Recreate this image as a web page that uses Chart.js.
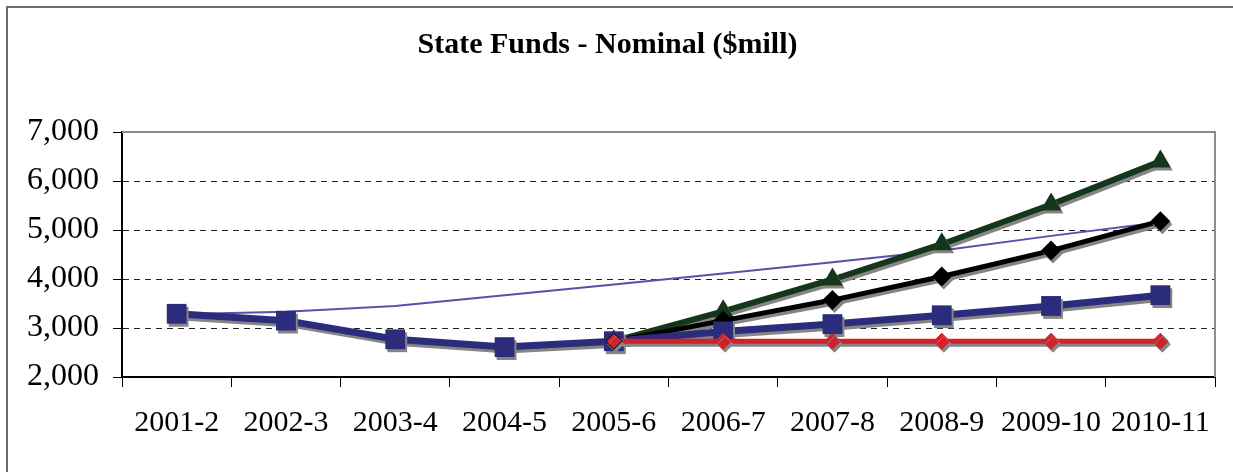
<!DOCTYPE html>
<html>
<head>
<meta charset="utf-8">
<script src="https://cdn.jsdelivr.net/npm/chart.js@4.4.1/dist/chart.umd.min.js"></script>
<style>
  html, body { margin: 0; padding: 0; background: #fff; }
  #wrap { width: 1233px; height: 472px; }
</style>
</head>
<body>
<div id="wrap"><canvas id="lineChart" width="1233" height="472"></canvas></div>
<script>
var years = ['2001-2', '2002-3', '2003-4', '2004-5', '2005-6', '2006-7', '2007-8', '2008-9', '2009-10', '2010-11']

// $mill
var actualFunds = [3290, 3150, 2770, 2610, 2730, 2930, 3080, 3260, 3450, 3670]
var trendFunds  = [3280, 3330, 3450, 3670, 3890, 4110, 4340, 4580, 4880, 5160]
var flatFunds   = [null, null, null, null, 2730, 2730, 2730, 2730, 2730, 2730]
var midFunds    = [null, null, null, null, 2730, 3150, 3570, 4050, 4580, 5180]
var highFunds   = [null, null, null, null, 2730, 3340, 3990, 4710, 5520, 6400]

var yTicks = [2000, 3000, 4000, 5000, 6000, 7000]

var serif = "'Liberation Serif', 'Times New Roman', serif"

// gray drop shadow under the thick series, like the excel original
var shadowPlugin = {
  id: 'shadow',
  beforeDatasetDraw: function(chart, args) {
    var ds = chart.data.datasets[args.index]
    chart.ctx.save()
    if (ds.shadow) {
      chart.ctx.shadowColor = '#858585'
      chart.ctx.shadowOffsetX = 2
      chart.ctx.shadowOffsetY = 3
      chart.ctx.shadowBlur = 0
    }
  },
  afterDatasetDraw: function(chart) {
    chart.ctx.restore()
  }
}

var framePlugin = {
  id: 'frame',
  beforeDraw: function(chart) {
    var ctx = chart.ctx
    ctx.save()
    ctx.fillStyle = '#fff'
    ctx.fillRect(0, 0, chart.width, chart.height)
    ctx.strokeStyle = '#6e6e6e'
    ctx.lineWidth = 2
    ctx.strokeRect(7, 7, chart.width + 20, chart.height + 20)
    ctx.restore()
  },
  beforeDatasetsDraw: function(chart) {
    var a = chart.chartArea
    var ctx = chart.ctx
    ctx.save()
    ctx.strokeStyle = '#8c8c8c'
    ctx.lineWidth = 2
    ctx.beginPath()
    ctx.moveTo(a.left, a.top)
    ctx.lineTo(a.right, a.top)
    ctx.lineTo(a.right, a.bottom)
    ctx.stroke()
    ctx.restore()
  }
}

var flatBorder = flatFunds.map(function(v, i) { return i === 4 ? '#000' : '#d4202b' })

new Chart(document.getElementById('lineChart').getContext('2d'), {
  type: 'line',
  data: {
    labels: years,
    datasets: [
      {
        data: flatFunds,
        borderColor: '#d4202b',
        backgroundColor: '#d4202b',
        borderWidth: 5,
        pointStyle: 'rectRot',
        pointRadius: 8,
        pointBorderWidth: 1,
        pointBorderColor: flatBorder,
        shadow: true
      },
      {
        data: actualFunds,
        borderColor: '#2b2c7c',
        backgroundColor: '#2b2c7c',
        borderWidth: 7,
        pointStyle: 'rect',
        pointRadius: 14,
        pointBorderWidth: 0,
        shadow: true
      },
      {
        data: midFunds,
        borderColor: '#000',
        backgroundColor: '#000',
        borderWidth: 5,
        pointStyle: 'rectRot',
        pointRadius: 10,
        pointBorderWidth: 0,
        shadow: true
      },
      {
        data: highFunds,
        borderColor: '#14361a',
        backgroundColor: '#14361a',
        borderWidth: 6,
        pointStyle: 'triangle',
        pointRadius: 12,
        pointBorderWidth: 0,
        shadow: true
      },
      {
        data: trendFunds,
        borderColor: '#5b50a8',
        borderWidth: 2,
        pointRadius: 0,
        shadow: false
      }
    ]
  },
  options: {
    responsive: false,
    animation: false,
    layout: { padding: { left: 0, right: 18, top: 0, bottom: 0 } },
    plugins: {
      legend: { display: false },
      tooltip: { enabled: false },
      title: {
        display: true,
        text: 'State Funds - Nominal ($mill)',
        color: '#000',
        font: { family: serif, size: 30, weight: 'bold' },
        padding: { top: 27, bottom: 69 }
      }
    },
    scales: {
      x: {
        offset: true,
        grid: {
          offset: true,
          drawOnChartArea: false,
          drawTicks: true,
          tickLength: 10,
          tickColor: '#000',
          tickWidth: 1
        },
        border: { color: '#000', width: 2 },
        ticks: {
          color: '#000',
          font: { family: serif, size: 30 },
          padding: 18,
          maxRotation: 0,
          autoSkip: false
        },
        afterFit: function(scale) { scale.height = 95 }
      },
      y: {
        min: 2000,
        max: 7000,
        afterBuildTicks: function(scale) {
          scale.ticks = yTicks.map(function(v) { return { value: v } })
        },
        grid: {
          color: '#222',
          lineWidth: 1,
          tickLength: 9,
          tickColor: '#000',
          tickWidth: 1,
          tickBorderDash: []
        },
        border: { color: '#000', width: 2, dash: [6, 5] },
        ticks: {
          color: '#000',
          font: { family: serif, size: 32 },
          padding: 14,
          callback: function(v) { return v.toLocaleString('en-US') }
        },
        afterFit: function(scale) { scale.width = 122 }
      }
    }
  },
  plugins: [framePlugin, shadowPlugin]
})
</script>
</body>
</html>
